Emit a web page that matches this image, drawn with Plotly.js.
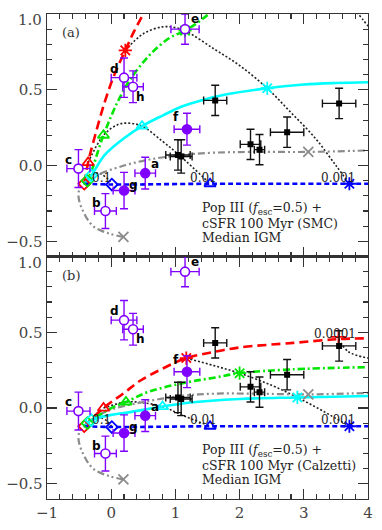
<!DOCTYPE html>
<html>
<head>
<meta charset="utf-8">
<script src="https://cdn.plot.ly/plotly-3.0.1.min.js"></script>
<style>
  html, body { margin: 0; padding: 0; background: #fff; }
  #plot { width: 382px; height: 530px; }
</style>
</head>
<body>
<div id="plot"></div>
<script>
// observed galaxies (same in both panels)
const galLabels = ["a", "b", "c", "d", "e", "f", "g", "h"];
const galX = [0.53, -0.09, -0.51, 0.20, 1.15, 1.18, 0.20, 0.34];
const galY = [-0.05, -0.30, -0.02, 0.58, 0.90, 0.24, -0.165, 0.52];
const galXErr = [0.16, 0.17, 0.18, 0.20, 0.22, 0.20, 0.17, 0.16];
const galYErr = [0.105, 0.115, 0.125, 0.13, 0.10, 0.105, 0.12, 0.105];
const galFilled = [true, false, false, false, false, true, true, false];

// comparison sample (black squares)
const refX = [1.04, 1.09, 1.62, 2.17, 2.31, 2.74, 3.55];
const refY = [0.07, 0.06, 0.43, 0.14, 0.105, 0.22, 0.41];
const refXErr = [0.19, 0.17, 0.18, 0.16, 0.08, 0.26, 0.26];
const refYErr = [0.10, 0.11, 0.10, 0.10, 0.10, 0.10, 0.10];

// panel (a): SMC dust, model tracks
const smcRed = [[-0.42, -0.12], [-0.36, 0.02], [-0.25, 0.2], [-0.1, 0.42], [0.05, 0.6], [0.22, 0.76], [0.35, 0.88], [0.5, 1.0], [0.65, 1.12]];
const smcGreen = [[-0.42, -0.12], [-0.37, -0.1], [-0.12, 0.2], [0.1, 0.42], [0.3, 0.57], [0.6, 0.73], [0.9, 0.84], [1.15, 0.89], [1.4, 0.96], [1.6, 1.03]];
const smcCyan = [[-0.42, -0.12], [-0.31, -0.065], [-0.1, 0.07], [0.2, 0.18], [0.48, 0.26], [0.8, 0.33], [1.1, 0.39], [1.4, 0.43], [1.8, 0.47], [2.43, 0.51], [3.0, 0.535], [3.5, 0.545], [4.0, 0.55]];
const smcBlue = [[-0.42, -0.12], [0.01, -0.125], [1.54, -0.12], [3.71, -0.12], [4.0, -0.12]];
const smcGray = [[0.19, -0.47], [-0.02, -0.45], [-0.28, -0.4], [-0.45, -0.29], [-0.51, -0.2], [-0.48, -0.14], [-0.42, -0.12], [-0.2, -0.06], [0.2, 0.0], [0.6, 0.04], [1.1, 0.07], [1.6, 0.085], [2.2, 0.09], [3.07, 0.09], [4.0, 0.1]];

// panel (a): iso-fraction dotted lines
const smcIso1 = [[-0.42, -0.12], [-0.37, -0.1], [-0.31, -0.065], [-0.2, -0.05], [-0.05, -0.09], [0.01, -0.125]];
const smcIso2 = [[-0.36, 0.02], [-0.12, 0.2], [0.1, 0.27], [0.27, 0.28], [0.48, 0.26], [0.8, 0.16], [1.07, 0.065], [1.54, -0.12]];
const smcIso3 = [[0.22, 0.76], [0.5, 0.87], [0.8, 0.915], [1.0, 0.91], [1.15, 0.89], [1.6, 0.77], [2.0, 0.66], [2.43, 0.51], [2.8, 0.35], [3.18, 0.18], [3.5, 0.0], [3.71, -0.12]];
const smcIso4 = [[3.75, 1.05], [3.85, 1.0], [4.0, 0.92]];

// panel (a): markers, ordered red, green, cyan, blue
const smcDiamonds = [[-0.42, -0.12], [-0.37, -0.1], [-0.31, -0.065], [0.01, -0.125]];
const smcTriangles = [[-0.36, 0.02], [-0.12, 0.2], [0.48, 0.26], [1.54, -0.12]];
const smcStars = [[0.22, 0.76], [1.15, 0.89], [2.43, 0.51], [3.71, -0.12]];
const smcGrayX = [[0.19, -0.47], [3.07, 0.09]];

// panel (b): Calzetti dust, model tracks
const calRed = [[-0.42, -0.12], [-0.12, 0.0], [0.2, 0.1], [0.45, 0.18], [0.8, 0.26], [1.17, 0.33], [1.6, 0.37], [2.0, 0.4], [2.84, 0.43], [3.54, 0.455], [4.0, 0.46]];
const calGreen = [[-0.42, -0.12], [-0.37, -0.1], [0.0, 0.0], [0.23, 0.04], [0.6, 0.11], [1.18, 0.17], [1.6, 0.2], [2.0, 0.23], [2.8, 0.255], [4.0, 0.27]];
const calCyan = [[-0.42, -0.12], [-0.31, -0.08], [0.0, -0.045], [0.25, -0.03], [0.8, 0.01], [1.2, 0.035], [2.0, 0.06], [2.9, 0.07], [4.0, 0.08]];
const calBlue = [[-0.42, -0.12], [0.01, -0.125], [1.54, -0.12], [3.71, -0.12], [4.0, -0.12]];
const calGray = [[0.19, -0.47], [-0.02, -0.45], [-0.28, -0.4], [-0.45, -0.29], [-0.51, -0.2], [-0.48, -0.14], [-0.42, -0.12], [-0.25, -0.06], [0.0, -0.01], [0.5, 0.04], [1.1, 0.08], [1.6, 0.095], [2.2, 0.095], [3.07, 0.09], [4.0, 0.1]];

// panel (b): iso-fraction dotted lines
const calIso1 = [[-0.42, -0.12], [-0.37, -0.1], [-0.31, -0.08], [-0.2, -0.06], [-0.05, -0.09], [0.01, -0.125]];
const calIso2 = [[-0.12, 0.0], [0.23, 0.04], [0.5, 0.035], [0.8, 0.01], [1.07, -0.04], [1.54, -0.12]];
const calIso3 = [[1.17, 0.33], [1.6, 0.28], [2.0, 0.23], [2.5, 0.15], [2.9, 0.07], [3.3, -0.02], [3.71, -0.12]];
const calIso4 = [[3.54, 0.455], [3.7, 0.37], [4.0, 0.33]];

// panel (b): markers, ordered red, green, cyan, blue
const calDiamonds = [[-0.42, -0.12], [-0.37, -0.1], [-0.31, -0.08], [0.01, -0.125]];
const calTriangles = [[-0.12, 0.0], [0.23, 0.04], [0.8, 0.01], [1.54, -0.12]];
const calStars = [[1.17, 0.33], [2.0, 0.23], [2.9, 0.07], [3.71, -0.12]];
const calPlus = [[3.54, 0.47]];
const calGrayX = [[0.19, -0.47], [3.07, 0.09]];

// iso-line labels
const isoLabels = ["0.1", "0.01", "0.001"];
const isoLabelX = [-0.15, 1.44, 3.53];
const isoLabelY = [-0.08, -0.08, -0.08];
const calExtraLabel = { text: "0.0001", x: 3.49, y: 0.49 };

// y ticks: the top label of each panel sits a little below its tick
const yTickVals = [-0.5, 0, 0.5, 1.0];
const yTickText = ["\u22120.5", "0.0", "0.5", " "];
const yTopLabel = "1.0";

const legendA = ["Pop III (<i>f</i><sub>esc</sub>=0.5) +", "cSFR 100 Myr (SMC)", "Median IGM"];
const legendB = ["Pop III (<i>f</i><sub>esc</sub>=0.5) +", "cSFR 100 Myr (Calzetti)", "Median IGM"];

// ---- styling ----
const TRACK_COLORS = ["#ff0000", "#00e600", "#00ffff", "#0000ff"];
const TRACK_DASH = ["9px,5px", "7px,3px,2px,3px", "solid", "5px,3px"];
const GRAY = "#8c8c8c";
const PURPLE = "#8000ff";
const SERIF = "DejaVu Serif, serif";
const LABEL_SHIFT = {
  a: [10, 9], b: [-9, 8], c: [-10, 9], d: [-10, 9],
  e: [10, 10], f: [-11, 12], g: [9, 6], h: [7, -10],
};

function xs(pairs) { return pairs.map((p) => p[0]); }
function ys(pairs) { return pairs.map((p) => p[1]); }

function trackTraces(tracks, gray, isoLines, axes) {
  const out = [];
  isoLines.forEach((pairs) => {
    out.push({
      type: "scatter", mode: "lines", x: xs(pairs), y: ys(pairs), ...axes,
      line: { color: "#222", width: 1.6, dash: "2px,2px", shape: "spline" },
      hoverinfo: "skip",
    });
  });
  out.push({
    type: "scatter", mode: "lines", x: xs(gray), y: ys(gray), ...axes,
    line: { color: GRAY, width: 2.2, dash: "7px,3px,2px,3px,2px,3px", shape: "spline" },
    hoverinfo: "skip",
  });
  tracks.forEach((pairs, i) => {
    out.push({
      type: "scatter", mode: "lines", x: xs(pairs), y: ys(pairs), ...axes,
      line: { color: TRACK_COLORS[i], width: 2.6, dash: TRACK_DASH[i], shape: "spline" },
      hoverinfo: "skip",
    });
  });
  return out;
}

function markerTraces(groups, axes) {
  return groups.map(([pairs, symbol, size, colors]) => ({
    type: "scatter", mode: "markers", x: xs(pairs), y: ys(pairs), ...axes,
    marker: {
      symbol, size,
      color: colors,
      line: { color: colors, width: 1.8 },
    },
    hoverinfo: "skip",
  }));
}

function dataTraces(axes) {
  return [
    {
      type: "scatter", mode: "markers", x: refX, y: refY, ...axes,
      error_x: { type: "data", array: refXErr, color: "#111", thickness: 1.4, width: 4 },
      error_y: { type: "data", array: refYErr, color: "#111", thickness: 1.4, width: 4 },
      marker: { symbol: "square", size: 6, color: "#000" },
      hoverinfo: "skip",
    },
    {
      type: "scatter", mode: "markers", x: galX, y: galY, ...axes,
      error_x: { type: "data", array: galXErr, color: PURPLE, thickness: 1.4, width: 4 },
      error_y: { type: "data", array: galYErr, color: PURPLE, thickness: 1.4, width: 4 },
      marker: {
        symbol: "circle", size: 9,
        color: galFilled.map((f) => (f ? PURPLE : "#fff")),
        line: { color: PURPLE, width: 1.6 },
      },
      hoverinfo: "skip",
    },
  ];
}

function panelTraces(set, axes) {
  return [
    ...trackTraces(set.tracks, set.gray, set.iso, axes),
    ...markerTraces(set.marks, axes),
    ...dataTraces(axes),
  ];
}

function panelAnnotations(tag, legend, xref, yref, extra) {
  const notes = [];
  notes.push({
    text: yTopLabel, x: 0, y: 1.0, xref: "paper", yref,
    xanchor: "right", yanchor: "middle", xshift: -3, yshift: -6, showarrow: false,
    font: { family: SERIF, size: 15, color: "#444" },
  });
  notes.push({
    text: tag, x: -0.8, y: 0.875, xref, yref, xanchor: "left", showarrow: false,
    font: { family: SERIF, size: 13, color: "#333" },
  });
  legend.forEach((line, i) => {
    notes.push({
      text: line, x: 1.39, y: [-0.283, -0.382, -0.474][i], xref, yref,
      xanchor: "left", showarrow: false,
      font: { family: SERIF, size: 12.5, color: "#222" },
    });
  });
  isoLabels.forEach((t, i) => {
    notes.push({
      text: t, x: isoLabelX[i], y: isoLabelY[i], xref, yref, showarrow: false,
      font: { family: SERIF, size: 12, color: "#222" },
    });
  });
  if (extra) {
    notes.push({
      text: extra.text, x: extra.x, y: extra.y, xref, yref, showarrow: false,
      font: { family: SERIF, size: 12, color: "#222" },
    });
  }
  galLabels.forEach((lab, i) => {
    const [dx, dy] = LABEL_SHIFT[lab];
    notes.push({
      text: "<b>" + lab + "</b>", x: galX[i], y: galY[i], xref, yref,
      xshift: dx, yshift: dy, showarrow: false,
      font: { family: "DejaVu Sans, sans-serif", size: 12, color: "#000" },
    });
  });
  return notes;
}

const smcSet = {
  tracks: [smcRed, smcGreen, smcCyan, smcBlue],
  gray: smcGray,
  iso: [smcIso1, smcIso2, smcIso3, smcIso4],
  marks: [
    [smcDiamonds, "diamond-open", 9, TRACK_COLORS],
    [smcTriangles, "triangle-up-open", 10, TRACK_COLORS],
    [smcStars, "asterisk-open", 11, TRACK_COLORS],
    [smcGrayX, "x-thin-open", 10, GRAY],
  ],
};
const calSet = {
  tracks: [calRed, calGreen, calCyan, calBlue],
  gray: calGray,
  iso: [calIso1, calIso2, calIso3, calIso4],
  marks: [
    [calDiamonds, "diamond-open", 9, TRACK_COLORS],
    [calTriangles, "triangle-up-open", 10, TRACK_COLORS],
    [calStars, "asterisk-open", 11, TRACK_COLORS],
    [calPlus, "cross-thin-open", 11, TRACK_COLORS[0]],
    [calGrayX, "x-thin-open", 10, GRAY],
  ],
};

const axisBase = {
  showline: true, linecolor: "#333", linewidth: 1.4, mirror: "allticks",
  ticks: "inside", ticklen: 10, tickwidth: 1.2, tickcolor: "#333",
  showgrid: false, zeroline: false,
  tickfont: { family: SERIF, size: 15, color: "#444" },
};
const xAxis = {
  ...axisBase, range: [-1, 4], dtick: 1, tick0: 0, tickformat: ".0f",
  minor: { dtick: 0.2, ticklen: 5, ticks: "inside", tickcolor: "#333", tickwidth: 1.1 },
};
const yAxis = {
  ...axisBase, range: [-0.6, 1.0], tickmode: "array", tickvals: yTickVals, ticktext: yTickText,
  minor: { tickmode: "linear", tick0: 0, dtick: 0.1, ticklen: 5, ticks: "inside", tickcolor: "#333", tickwidth: 1.1 },
};

const layout = {
  width: 382, height: 530,
  margin: { l: 47, r: 14, t: 14, b: 31 },
  paper_bgcolor: "#fff", plot_bgcolor: "#fff",
  showlegend: false,
  xaxis: { ...xAxis, anchor: "y", showticklabels: false },
  yaxis: { ...yAxis, domain: [0.5, 1], anchor: "x" },
  xaxis2: { ...xAxis, anchor: "y2", matches: "x" },
  yaxis2: { ...yAxis, domain: [0, 0.5], anchor: "x2" },
  annotations: [
    ...panelAnnotations("(a)", legendA, "x", "y", null),
    ...panelAnnotations("(b)", legendB, "x2", "y2", calExtraLabel),
  ],
};

const traces = [
  ...panelTraces(smcSet, { xaxis: "x", yaxis: "y" }),
  ...panelTraces(calSet, { xaxis: "x2", yaxis: "y2" }),
];

Plotly.newPlot("plot", traces, layout, { staticPlot: true, displayModeBar: false });
</script>
</body>
</html>
